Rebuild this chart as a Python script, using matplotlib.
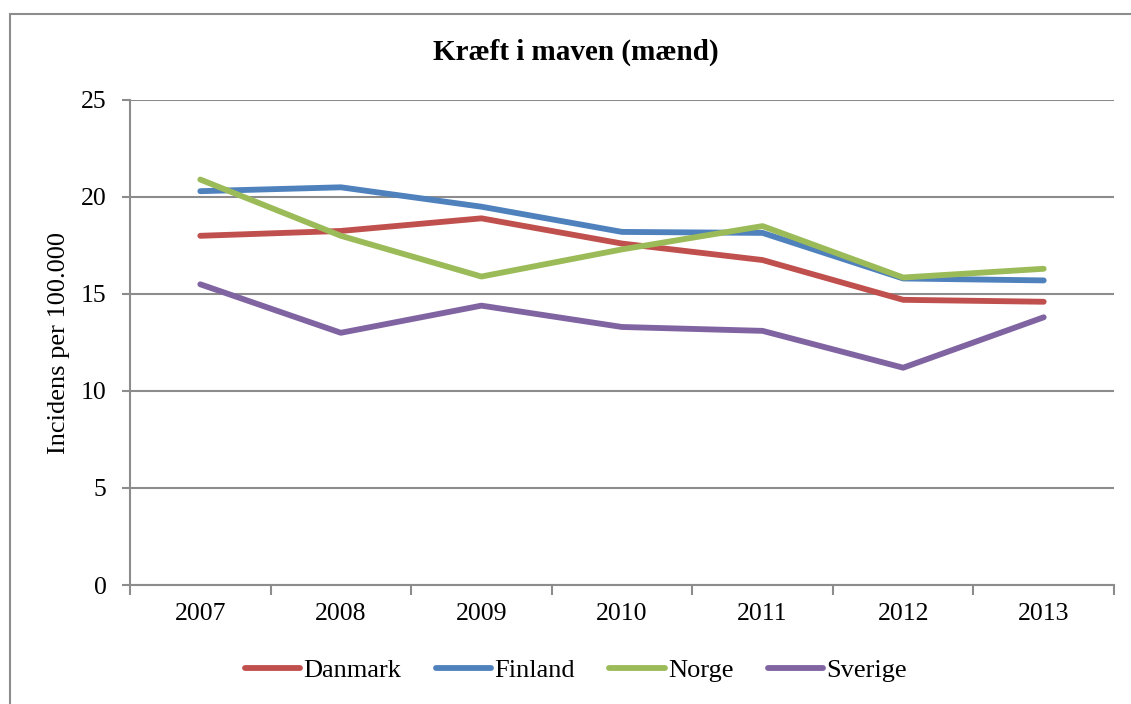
import numpy as np
import matplotlib
matplotlib.use("Agg")
import matplotlib.pyplot as plt
from matplotlib.patches import Rectangle

# data
years = ["2007", "2008", "2009", "2010", "2011", "2012", "2013"]
danmark = [18.0, 18.25, 18.9, 17.6, 16.75, 14.7, 14.6]
finland = [20.3, 20.5, 19.5, 18.2, 18.15, 15.8, 15.7]
norge = [20.9, 18.0, 15.9, 17.3, 18.5, 15.85, 16.3]
sverige = [15.5, 13.0, 14.4, 13.3, 13.1, 11.2, 13.8]
series_names = ["Danmark", "Finland", "Norge", "Sverige"]
yticks = [0, 5, 10, 15, 20, 25]

colors = ["#C0504D", "#4F81BD", "#9BBB59", "#8064A2"]
gray = "#8C8C8C"

plt.rcParams["font.family"] = ["Liberation Serif", "DejaVu Serif"]

fig = plt.figure(figsize=(11.31, 7.04), dpi=100)
ax = fig.add_axes([130/1131, 1-585/704, 984/1131, 485/704])

# outer chart border (Excel style)
fig.patches.append(Rectangle((9.5/1131, -0.1), 1.2, 0.1 + 1 - 13.5/704,
                             transform=fig.transFigure, fill=False,
                             edgecolor=gray, lw=1.5))

x = np.arange(len(years))
for vals, name, c in zip([danmark, finland, norge, sverige], series_names, colors):
    ax.plot(x, vals, color=c, lw=4.2, solid_capstyle="round",
            solid_joinstyle="round", label=name)

ax.set_xlim(-0.5, len(years) - 0.5)
ax.set_ylim(0, 25)
ax.set_yticks(yticks)
ax.yaxis.grid(True, color=gray, lw=1.5)
ax.set_axisbelow(True)

# category ticks between labels, labels centred
ax.set_xticks(np.arange(-0.5, len(years), 1.0))
ax.set_xticklabels([])
ax.set_xticks(x, minor=True)
ax.set_xticklabels(years, minor=True)
ax.tick_params(axis="x", which="major", length=7, width=1.5, color=gray, direction="out")
ax.tick_params(axis="x", which="minor", length=0, pad=13, labelsize=18.5)
ax.tick_params(axis="y", length=6, width=1.5, color=gray, direction="out",
               pad=11, labelsize=18.5)

for s in ["top", "right"]:
    ax.spines[s].set_visible(False)
for s in ["left", "bottom"]:
    ax.spines[s].set_color(gray)
    ax.spines[s].set_linewidth(1.5)

ax.set_ylabel("Incidens per 100.000", fontsize=19)
ax.yaxis.set_label_coords(-0.061, 0.5)

fig.text(576/1131, 1-52/704, "Kræft i maven (mænd)", ha="center", va="center",
         fontsize=21, fontweight="bold")

fig.legend(loc="center", bbox_to_anchor=(576/1131, 1-670/704), ncol=4,
           frameon=False, fontsize=19, handlelength=2.1, handletextpad=0.12,
           columnspacing=1.3)

fig.savefig("out.png", dpi=100)
